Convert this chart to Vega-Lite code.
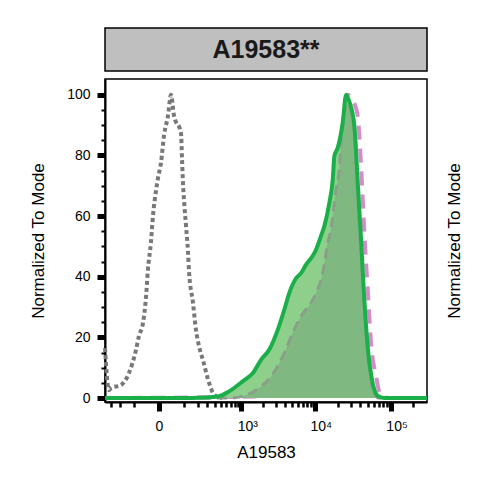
{
  "$schema": "https://vega.github.io/schema/vega-lite/v6.json",
  "padding": {"left": 28, "top": 27, "right": 5, "bottom": 5},
  "config": {"font": "Liberation Sans", "view": {"stroke": null}},
  "spacing": 6,
  "datasets": {
    "ctrl": [
      {"v": -372, "p": 16.5}, {"v": -320, "p": 2.6}, {"v": -295, "p": 3.3}, {"v": -194, "p": 4.3},
      {"v": -133, "p": 8.3}, {"v": -91, "p": 15.8}, {"v": -75, "p": 20.5}, {"v": -56, "p": 24.8},
      {"v": -43, "p": 33.7}, {"v": -36, "p": 42.2}, {"v": -25, "p": 51.2}, {"v": -18, "p": 60.1},
      {"v": -8.6, "p": 68.3}, {"v": -2.7, "p": 72.6}, {"v": 5.6, "p": 77.6}, {"v": 14.7, "p": 86.5},
      {"v": 28.2, "p": 93.1}, {"v": 39.5, "p": 100}, {"v": 51.8, "p": 93.1}, {"v": 85, "p": 87.5},
      {"v": 91, "p": 78.5}, {"v": 96, "p": 70.9}, {"v": 102, "p": 65.3}, {"v": 114, "p": 56.8},
      {"v": 127, "p": 47.9}, {"v": 133, "p": 42.2}, {"v": 162, "p": 31.4}, {"v": 186, "p": 22.4},
      {"v": 212, "p": 17.2}, {"v": 251, "p": 12.5}, {"v": 320, "p": 5}, {"v": 372, "p": 1.7},
      {"v": 450, "p": 0.3}, {"v": 520, "p": 0}
    ],
    "pink": [
      {"v": -372, "p": 0}, {"v": 1500, "p": 0.5}, {"v": 5000, "p": 20}, {"v": 10000, "p": 35},
      {"v": 15000, "p": 52}, {"v": 20000, "p": 75}, {"v": 24000, "p": 92}, {"v": 27600, "p": 100},
      {"v": 31000, "p": 98}, {"v": 33500, "p": 97}, {"v": 36990, "p": 93}, {"v": 40900, "p": 76.6},
      {"v": 45200, "p": 54.5}, {"v": 50100, "p": 35.7}, {"v": 55400, "p": 18}, {"v": 64400, "p": 7.2},
      {"v": 75000, "p": 0.7}, {"v": 95700, "p": 0}, {"v": 302000, "p": 0}
    ],
    "main": [
      {"v": -372, "p": 0}, {"v": 60, "p": 0}, {"v": 284, "p": 0.2}, {"v": 448, "p": 0.5},
      {"v": 661, "p": 2.2}, {"v": 1058, "p": 5.6}, {"v": 1464, "p": 8.3}, {"v": 1889, "p": 12.6},
      {"v": 2455, "p": 16}, {"v": 3195, "p": 22.5}, {"v": 3924, "p": 29.2}, {"v": 4573, "p": 34.7},
      {"v": 5627, "p": 39.5}, {"v": 6559, "p": 41.2}, {"v": 7659, "p": 44}, {"v": 9400, "p": 46.9},
      {"v": 10400, "p": 49}, {"v": 12100, "p": 53.5}, {"v": 13390, "p": 56.7}, {"v": 15600, "p": 64.4},
      {"v": 17300, "p": 72.1}, {"v": 18160, "p": 79.8}, {"v": 20130, "p": 82.5}, {"v": 23450, "p": 90.9},
      {"v": 25940, "p": 100}, {"v": 28670, "p": 97.7}, {"v": 33370, "p": 89.8}, {"v": 36990, "p": 71},
      {"v": 40900, "p": 52.2}, {"v": 45200, "p": 32.3}, {"v": 50100, "p": 16.8}, {"v": 58300, "p": 4.8},
      {"v": 67900, "p": 0.7}, {"v": 82200, "p": 0}, {"v": 302000, "p": 0}
    ],
    "inner": [
      {"v": -372, "p": 0}, {"v": 707, "p": 0}, {"v": 1167, "p": 1}, {"v": 1889, "p": 3.8},
      {"v": 2592, "p": 7.1}, {"v": 3924, "p": 14.9}, {"v": 5085, "p": 21.5}, {"v": 6559, "p": 27},
      {"v": 8920, "p": 31.4}, {"v": 10400, "p": 34.6}, {"v": 12750, "p": 41.3}, {"v": 14850, "p": 51.2},
      {"v": 16420, "p": 55.8}, {"v": 19120, "p": 68.9}, {"v": 21150, "p": 75.7}, {"v": 22260, "p": 84.2},
      {"v": 26700, "p": 97}, {"v": 30150, "p": 95}, {"v": 34070, "p": 84}, {"v": 37350, "p": 64},
      {"v": 40900, "p": 47}, {"v": 46150, "p": 27}, {"v": 52100, "p": 11}, {"v": 58900, "p": 2.5},
      {"v": 70600, "p": 0}, {"v": 302000, "p": 0}
    ]
  },
  "vconcat": [
    {
      "width": 322,
      "height": 43,
      "view": {"fill": "#bfbfbf", "stroke": "black", "strokeWidth": 1.5},
      "data": {"values": [{"t": "A19583**"}]},
      "mark": {"type": "text", "fontSize": 25, "fontWeight": "bold", "color": "#1a1a1a"},
      "encoding": {"text": {"field": "t", "type": "nominal"}}
    },
    {
      "width": 322,
      "height": 323,
      "view": {"stroke": "black", "strokeWidth": 1.5},
      "resolve": {"axis": {"y": "independent"}},
      "encoding": {
        "x": {
          "field": "v",
          "type": "quantitative",
          "scale": {"type": "symlog", "constant": 90, "domain": [-372, 302000], "nice": false, "zero": false},
          "axis": {
            "title": "A19583",
            "values": [-300, -200, -100, 0, 100, 200, 300, 400, 500, 600, 700, 800, 900, 1000, 2000, 3000, 4000, 5000, 6000, 7000, 8000, 9000, 10000, 20000, 30000, 40000, 50000, 60000, 70000, 80000, 90000, 100000, 200000],
            "labelExpr": "datum.value == 0 ? '0' : datum.value == 1000 ? '10³' : datum.value == 10000 ? '10⁴' : datum.value == 100000 ? '10⁵' : ''",
            "labelOffset": {"condition": {"test": "datum.value >= 1000", "value": 6}, "value": 0},
            "tickSize": {"condition": {"test": "indexof([0, 1000, 10000, 100000], datum.value) >= 0", "value": 9}, "value": 5},
            "tickWidth": {"condition": {"test": "indexof([0, 1000, 10000, 100000], datum.value) >= 0", "value": 5}, "value": 2.5},
            "tickColor": "black",
            "domainColor": "black",
            "domainWidth": 2,
            "grid": false,
            "labelOverlap": false,
            "labelFlush": false,
            "labelFontSize": 14,
            "labelColor": "black",
            "labelPadding": 8,
            "titleFontSize": 17,
            "titleFontWeight": "normal",
            "titleColor": "black",
            "titlePadding": 11
          }
        }
      },
      "layer": [
        {
          "data": {"name": "ctrl"},
          "mark": {"type": "line", "color": "#787878", "strokeWidth": 4, "strokeDash": [4, 3], "interpolate": "monotone"},
          "encoding": {
            "y": {
              "field": "p",
              "type": "quantitative",
              "scale": {"domain": [-1.3, 105.2], "nice": false, "zero": false},
              "axis": {
                "title": "Normalized To Mode",
                "values": [0, 5, 10, 15, 20, 25, 30, 35, 40, 45, 50, 55, 60, 65, 70, 75, 80, 85, 90, 95, 100],
                "labelExpr": "datum.value % 20 == 0 ? datum.label : ''",
                "tickSize": {"condition": {"test": "datum.value % 20 == 0", "value": 8}, "value": 4},
                "tickWidth": {"condition": {"test": "datum.value % 20 == 0", "value": 5}, "value": 2},
                "tickColor": "black",
                "domainColor": "black",
                "domainWidth": 2,
                "grid": false,
                "labelOverlap": false,
                "labelFontSize": 14,
                "labelColor": "black",
                "labelPadding": 7,
                "titleFontSize": 17,
                "titleFontWeight": "normal",
                "titleColor": "black",
                "titlePadding": 19
              }
            }
          }
        },
        {
          "data": {"name": "pink"},
          "mark": {"type": "line", "color": "#d48cc8", "strokeWidth": 4, "strokeDash": [14, 9], "interpolate": "monotone"},
          "encoding": {
            "y": {
              "field": "p",
              "type": "quantitative",
              "scale": {"domain": [-1.3, 105.2], "nice": false, "zero": false},
              "axis": {
                "orient": "right",
                "title": "Normalized To Mode",
                "titleAngle": 270,
                "ticks": false,
                "labels": false,
                "domain": false,
                "grid": false,
                "titleFontSize": 17,
                "titleFontWeight": "normal",
                "titleColor": "black",
                "titlePadding": 36
              }
            }
          }
        },
        {
          "data": {"name": "main"},
          "mark": {"type": "area", "color": "#8ecf8b", "opacity": 1, "interpolate": "monotone"},
          "encoding": {
            "y": {"field": "p", "type": "quantitative", "scale": {"domain": [-1.3, 105.2], "nice": false, "zero": false}, "axis": null}
          }
        },
        {
          "data": {"name": "inner"},
          "mark": {"type": "area", "color": "#80b882", "opacity": 1, "interpolate": "monotone"},
          "encoding": {
            "y": {"field": "p", "type": "quantitative", "scale": {"domain": [-1.3, 105.2], "nice": false, "zero": false}, "axis": null}
          }
        },
        {
          "data": {"name": "inner"},
          "mark": {"type": "line", "color": "#8a9e8a", "strokeWidth": 3, "strokeDash": [10, 6], "interpolate": "monotone"},
          "encoding": {
            "y": {"field": "p", "type": "quantitative", "scale": {"domain": [-1.3, 105.2], "nice": false, "zero": false}, "axis": null}
          }
        },
        {
          "data": {"name": "main"},
          "mark": {"type": "line", "color": "#1aaf48", "strokeWidth": 4, "interpolate": "monotone"},
          "encoding": {
            "y": {"field": "p", "type": "quantitative", "scale": {"domain": [-1.3, 105.2], "nice": false, "zero": false}, "axis": null}
          }
        }
      ]
    }
  ]
}
